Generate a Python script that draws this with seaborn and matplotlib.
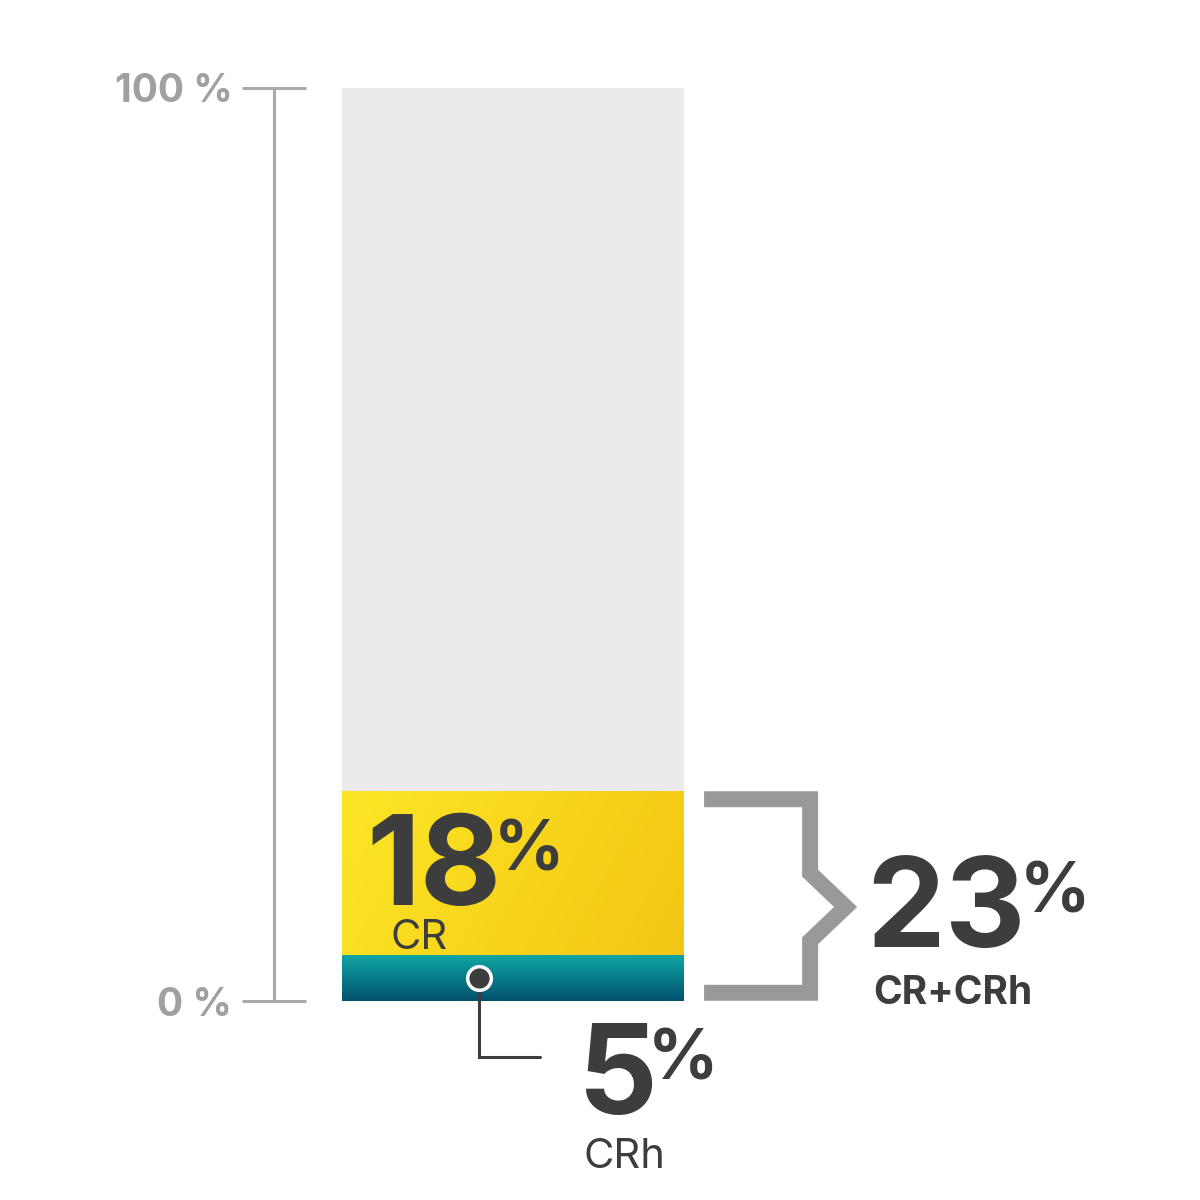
import numpy as np
import pandas as pd
import matplotlib
matplotlib.use("Agg")
import matplotlib.pyplot as plt
import seaborn as sns

# values of the stacked bar
cr = 18
crh = 5
full = 100
layer_names = ["Rest", "CR+CRh", "CRh"]
layer_heights = [full, cr + crh, crh]
layer_colors = ["#ebebeb", "#f8da1c", "#057f8f"]

sns.set_theme(style="white")
plt.rcParams["font.family"] = ["Inter", "DejaVu Sans"]

W = H = 1200
fig = plt.figure(figsize=(12, 12), dpi=100)
ax = fig.add_axes([0, 0, 1, 1])

# draw the layers on top of each other, same category
for name, h, c in zip(layer_names, layer_heights, layer_colors):
    df = pd.DataFrame({"bar": ["x"], "value": [h]})
    sns.barplot(data=df, x="bar", y="value", color=c, width=0.8,
                saturation=1, ax=ax, linewidth=0, zorder=2)

# gradients clipped to the coloured bars
yel = ax.patches[1]
x0, y0 = yel.get_x(), yel.get_y()
w, hh = yel.get_width(), yel.get_height()
gx, gy = np.meshgrid(np.linspace(0, 1, 200), np.linspace(0, 1, 100))
t = np.clip(0.75 * gx + 0.25 * gy, 0, 1)
c1 = np.array(matplotlib.colors.to_rgb("#fde626"))
c2 = np.array(matplotlib.colors.to_rgb("#f2c413"))
img = c1[None, None, :] * (1 - t[..., None]) + c2[None, None, :] * t[..., None]
im = ax.imshow(img, extent=[x0, x0 + w, y0, y0 + hh], origin="upper",
               aspect="auto", zorder=3)
im.set_clip_path(yel)

teal = ax.patches[2]
x0, y0 = teal.get_x(), teal.get_y()
w, hh = teal.get_width(), teal.get_height()
t = np.linspace(0, 1, 100)[:, None] * np.ones((1, 10))
c1 = np.array(matplotlib.colors.to_rgb("#0fa6a3"))
c2 = np.array(matplotlib.colors.to_rgb("#00516e"))
img = c1[None, None, :] * (1 - t[..., None]) + c2[None, None, :] * t[..., None]
im2 = ax.imshow(img, extent=[x0, x0 + w, y0, y0 + hh], origin="upper",
                aspect="auto", zorder=4)
im2.set_clip_path(teal)

# scales: 0 % at pixel 1001 and 100 % at 88 from top
ppu = (1001 - 88) / 100
ax.set_ylim(-(H - 1001) / ppu, 1001 / ppu)
xunit = 342 / 0.8
ax.set_xlim(-513 / xunit, (W - 513) / xunit)

# left axis with 0 and 100 ticks
for s in ["top", "right", "bottom"]:
    ax.spines[s].set_visible(False)
ax.spines["left"].set_position(("axes", 274 / W))
ax.spines["left"].set_bounds(0, full)
ax.spines["left"].set_color("#aaaaaa")
ax.spines["left"].set_linewidth(2.2)
ax.set_xticks([])
ax.set_xlabel("")
ax.set_ylabel("")
ax.set_yticks([0, full])
ax.set_yticklabels(["0 %", "100 %"])
ax.tick_params(axis="y", left=True, direction="inout", length=46, width=2.2,
               color="#aaaaaa", pad=7, labelsize=28, labelcolor="#a0a0a0")
for lbl in ax.get_yticklabels():
    lbl.set_fontweight("bold")
ax.patch.set_alpha(0)

dark = "#3d3d3d"

def ftext(x, y, s, **kw):
    return fig.text(x / W, 1 - y / H, s, color=dark, **kw)

def pct(num, dx):
    # small % sign hung on the top right of a big number
    return ax.annotate("%", xy=(1, 1), xycoords=num, xytext=(dx, -4),
                       textcoords="offset points", fontsize=50,
                       fontweight="bold", color=dark, ha="left", va="top")

# CR label inside the yellow part
n18 = ftext(366, 905, f"{cr}", fontsize=90, fontweight="bold",
            va="baseline")
pct(n18, -5)
ftext(391, 949, "CR", fontsize=30, va="baseline")

# CRh leader line
xc = -0.08
ax.plot([xc, xc, 0.063], [crh / 2, -6.1, -6.1], color=dark, lw=2.2,
        zorder=5, solid_joinstyle="miter")
ax.scatter([xc], [crh / 2], s=290, color=dark, edgecolor="white",
           linewidth=2.5, zorder=6)
n5 = ftext(578, 1114, f"{crh}", fontsize=90, fontweight="bold",
           va="baseline")
pct(n5, -7)
ftext(584, 1168, "CRh", fontsize=30, va="baseline")

# bracket for the sum
tot = cr + crh
top = tot - 0.9
bot = 0.9
ax.plot([0.447, 0.695, 0.695, 0.778, 0.695, 0.695, 0.447],
        [top, top, 14.0, 10.3, 6.6, bot, bot],
        color="#999999", lw=11.5, solid_joinstyle="miter",
        solid_capstyle="butt", zorder=5)
n23 = ftext(866, 947, f"{tot}", fontsize=90, fontweight="bold",
            va="baseline")
pct(n23, -4)
ftext(873, 1004, "CR+CRh", fontsize=28, fontweight="bold", va="baseline")

fig.savefig("out.png", dpi=100)
